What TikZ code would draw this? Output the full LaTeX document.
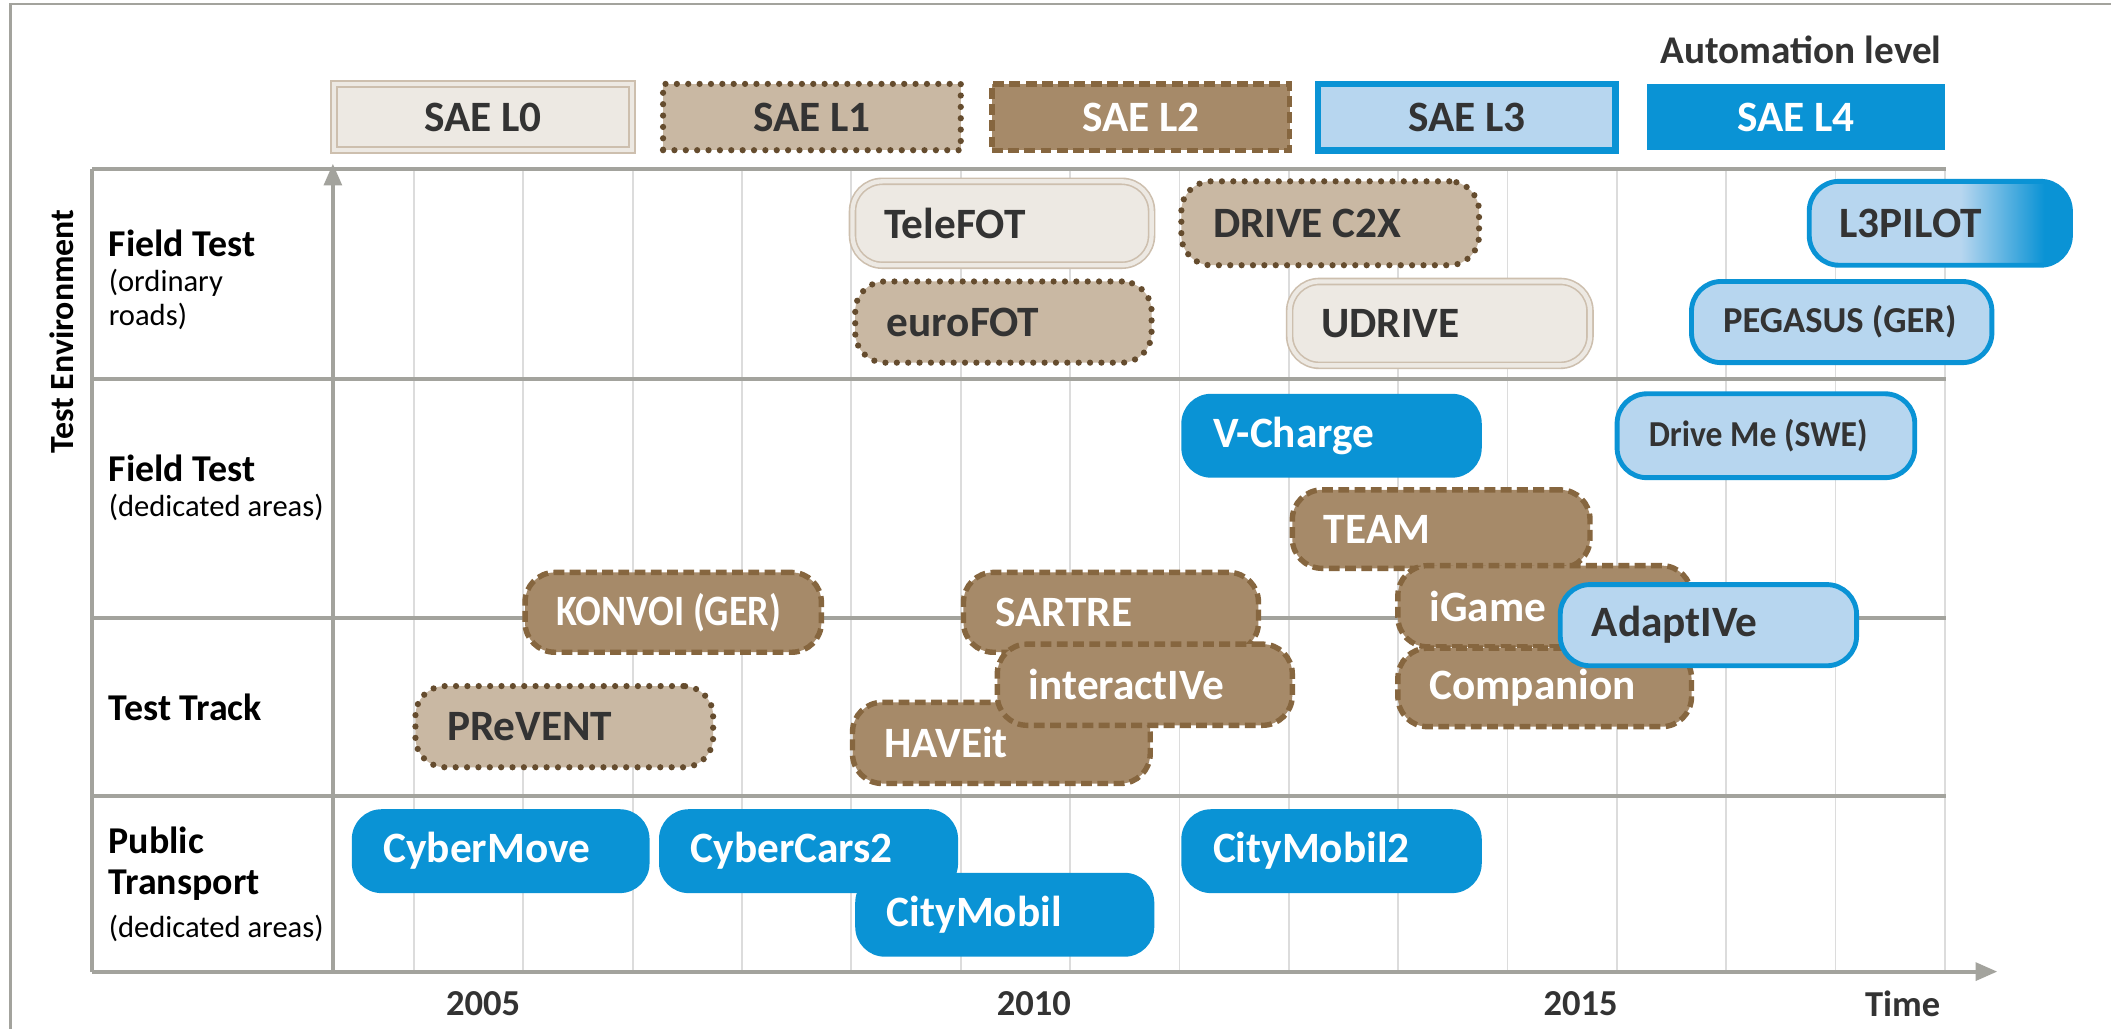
\documentclass[tikz,border=0pt]{standalone}
\usepackage{fontspec}
\setmainfont{Carlito}
\usetikzlibrary{arrows.meta}
\definecolor{lzerofill}{HTML}{EDE9E3}
\definecolor{lzeroborder}{HTML}{CDBFAE}
\definecolor{lonefill}{HTML}{C9B8A3}
\definecolor{loneborder}{HTML}{654C2E}
\definecolor{ltwofill}{HTML}{A68A69}
\definecolor{ltwoborder}{HTML}{86663F}
\definecolor{lthreefill}{HTML}{B7D6EF}
\definecolor{lfourfill}{HTML}{0A93D5}
\definecolor{darktext}{HTML}{333333}
\definecolor{axisgray}{HTML}{A3A39D}
\definecolor{gridgray}{HTML}{DCDCDC}
\pgfdeclarehorizontalshading{lthreefour}{100bp}{color(0bp)=(lthreefill); color(54bp)=(lthreefill); color(70bp)=(lfourfill); color(100bp)=(lfourfill)}
\newcommand\proj[8]{%
  \node[projbox, #2, minimum width={(#6-#4)/2}, minimum height={(#7-#5)/2}] (#1) at ({(#4+#6)/2},{(#5+#7)/2}) {};
  \node[anchor=west, inner sep=0pt, #3] (#1-t) at ([xshift=11.5pt]#1.west) {#8};
}
\begin{document}
\begin{tikzpicture}[x=0.5pt,y=-0.5pt,
  projbox/.style={rounded corners=11pt, inner sep=0pt, outer sep=0pt},
  legbox/.style={inner sep=0pt, outer sep=0pt, minimum width=110pt, minimum height=24.5pt},
  lzero/.style={fill=lzerofill, draw=lzeroborder, double=lzerofill, double distance=1.6pt, line width=0.6pt},
  lone/.style={fill=lonefill, draw=loneborder, line width=2.3pt, dash pattern=on 0pt off 4.2pt, line cap=round},
  ltwo/.style={fill=ltwofill, draw=ltwoborder, line width=2pt, dash pattern=on 4pt off 2pt},
  lthree/.style={fill=lthreefill, draw=lfourfill, line width=1.8pt},
  lfour/.style={fill=lfourfill},
  dk/.style={text=darktext, font=\bfseries\fontsize{16}{18}\selectfont},
  wt/.style={text=white, font=\bfseries\fontsize{16}{18}\selectfont},
  dksmall/.style={text=darktext, font=\bfseries\fontsize{13.5}{16}\selectfont},
  wtcond/.style={text=white, font=\bfseries\fontsize{16}{18}\selectfont},
  axisline/.style={draw=axisgray, line width=1.5pt},
  gridline/.style={draw=gridgray, line width=0.7pt},
  rowlabel/.style={anchor=west, inner sep=0pt, text=black, font=\bfseries\fontsize{14}{16}\selectfont},
  rowsub/.style={anchor=west, inner sep=0pt, text=black, font=\fontsize{11.3}{14}\selectfont},
  yearlabel/.style={inner sep=0pt, text=darktext, font=\bfseries\fontsize{13.5}{16}\selectfont}
]
\useasboundingbox (0,0) rectangle (1560,760.4);
\fill[white] (0,0) rectangle (1560,760.4);
% outer frame
\draw[axisgray, line width=1pt] (8,760.4) -- (8,3) -- (1560,3);
% grid
\foreach \i in {0,...,14} \draw[gridline] ({306+80.8*\i},125) -- ({306+80.8*\i},718);
% rows
\draw[axisline] (68,125) -- (1438,125);
\draw[axisline] (68,280) -- (1438,280);
\draw[axisline] (68,457) -- (1438,457);
\draw[axisline] (68,588) -- (1438,588);
\draw[axisline] (68,125) -- (68,718);
\draw[axisline, -{Triangle[length=8pt,width=6.5pt]}] (68,718) -- (1476,718);
\draw[axisline, -{Triangle[length=8pt,width=6.5pt]}] (246,718) -- (246,121);
% axis title
\node[rotate=90, inner sep=0pt, font=\bfseries\fontsize{12.5}{15}\selectfont] (testenv) at (46,245) {Test Environment};
% row labels
\node[rowlabel] (r1) at (80,180) {Field Test};
\node[rowsub] (r1a) at (80,209) {(ordinary};
\node[rowsub] (r1b) at (80,234) {roads)};
\node[rowlabel] (r2) at (80,346) {Field Test};
\node[rowsub] (r2a) at (80,375) {(dedicated areas)};
\node[rowlabel] (r3) at (80,523) {Test Track};
\node[rowlabel] (r4) at (80,621) {Public};
\node[rowlabel] (r4a) at (80,654) {Transport};
\node[rowsub] (r4b) at (80,686) {(dedicated areas)};
% years
\node[yearlabel] (y2005) at (357,742) {2005};
\node[yearlabel] (y2010) at (764,742) {2010};
\node[yearlabel] (y2015) at (1168,742) {2015};
\node[yearlabel] (ytime) at (1406,742) {Time};
% legend
\node[inner sep=0pt, text=darktext, font=\bfseries\fontsize{14.5}{17}\selectfont] (autolevel) at (1331,37) {Automation level};
\node[legbox, lzero, dk] (sae0) at (357,86.5) {SAE L0};
\node[legbox, lone, dk] (sae1) at (600,86.5) {SAE L1};
\node[legbox, ltwo, wt] (sae2) at (843,86.5) {SAE L2};
\node[legbox, lthree, line width=2.5pt, dk] (sae3) at (1084,86.5) {SAE L3};
\node[legbox, lfour, wt] (sae4) at (1327,86.5) {SAE L4};
% projects: field test ordinary roads
\proj{telefot}{lzero}{dk}{630}{134}{851}{196}{TeleFOT}
\proj{eurofot}{lone}{dk}{632}{208}{851}{268}{euroFOT}
\proj{drivec2x}{lone}{dk}{873}{134}{1093}{196}{DRIVE C2X}
\proj{udrive}{lzero}{dk}{953}{208}{1175}{270}{UDRIVE}
\node[projbox, shading=lthreefour, draw=lfourfill, line width=1.8pt, minimum width=96.5pt, minimum height=31pt] (l3pilot) at (1433.5,165) {};
\node[anchor=west, inner sep=0pt, dk] (l3pilot-t) at ([xshift=11pt]l3pilot.west) {L3PILOT};
\proj{pegasus}{lthree}{dksmall}{1250}{208}{1472}{268}{PEGASUS (GER)}
% field test dedicated areas
\proj{vcharge}{lfour}{wt}{873}{291}{1095}{353}{V-Charge}
\proj{driveme}{lthree}{dksmall}{1195}{291}{1415}{353}{\scalebox{0.92}[1]{Drive Me (SWE)}}
\proj{team}{ltwo}{wt}{955}{362}{1175}{420}{TEAM}
\proj{konvoi}{ltwo}{wtcond}{388}{423}{607}{482}{\scalebox{0.88}[1]{KONVOI (GER)}}
\proj{sartre}{ltwo}{wt}{712}{423}{930}{482}{SARTRE}
\proj{igame}{ltwo}{wt}{1033}{418}{1250}{478}{iGame}
\proj{companion}{ltwo}{wt}{1033}{479}{1250}{537}{Companion}
\proj{adaptive}{lthree}{dk}{1153}{432}{1372}{492}{AdaptIVe}
% test track
\proj{prevent}{lone}{dk}{307}{507}{527}{567}{PReVENT}
\proj{haveit}{ltwo}{wt}{630}{519}{850}{579}{HAVEit}
\proj{interactive}{ltwo}{wt}{737}{476}{955}{536}{interactIVe}
% public transport
\proj{cybermove}{lfour}{wt}{260}{598}{480}{660}{CyberMove}
\proj{cybercars}{lfour}{wt}{487}{598}{708}{660}{CyberCars2}
\proj{citymobiltwo}{lfour}{wt}{873}{598}{1095}{660}{CityMobil2}
\proj{citymobil}{lfour}{wt}{632}{645}{853}{707}{CityMobil}
\end{tikzpicture}
\end{document}
